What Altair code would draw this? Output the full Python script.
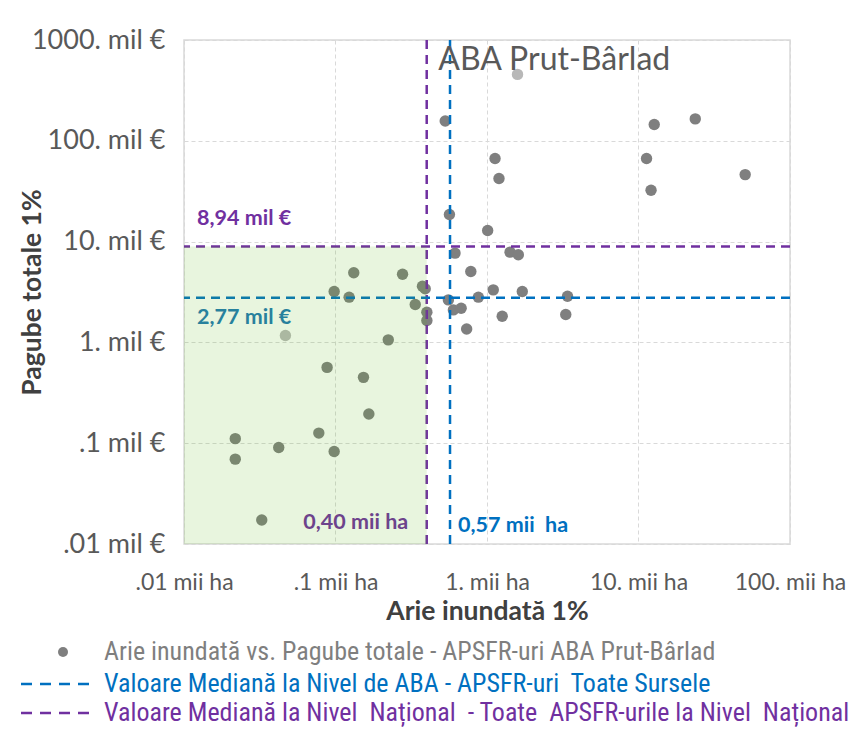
import altair as alt
import pandas as pd

# ---------------- data ----------------
area_kha = [0.132, 0.277, 0.098, 0.123, 0.375, 0.336, 0.391, 0.401, 0.401,
            0.0467, 0.223, 0.088, 0.153, 0.166, 0.0218, 0.0218, 0.0422, 0.0776,
            0.098, 0.0326,
            1.59, 0.53, 12.7, 23.7, 1.13, 1.20, 11.3, 12.1, 50.6, 0.565, 1.01,
            0.615, 1.42, 1.61, 0.782, 1.10, 1.71, 3.40, 0.556, 0.877, 0.60,
            0.675, 1.26, 3.31, 0.734]
damage_meur = [4.91, 4.75, 3.20, 2.81, 3.61, 2.38, 3.40, 1.99, 1.65,
               1.17, 1.06, 0.565, 0.45, 0.195, 0.111, 0.0695, 0.0906, 0.126,
               0.0827, 0.0173,
               456, 157, 145, 165, 66.7, 42.2, 66.7, 32.3, 46.2, 18.6, 12.9,
               7.69, 7.86, 7.41, 5.05, 3.32, 3.20, 2.87, 2.64, 2.81, 2.10,
               2.18, 1.82, 1.89, 1.36]
tone = ["d"] * 9 + ["l"] + ["d"] * 10 + ["l"] + ["d"] * 24

median_aba_x = 0.57
median_aba_y = 2.77
median_nat_x = 0.40
median_nat_y = 8.94

x_ticks = [0.01, 0.1, 1, 10, 100]
x_tick_labels = [".01 mii ha", ".1 mii ha", "1. mii ha", "10. mii ha", "100. mii ha"]
y_ticks = [0.01, 0.1, 1, 10, 100, 1000]
y_tick_labels = [".01 mil €", ".1 mil €", "1. mil €", "10. mil €", "100. mil €", "1000. mil €"]

shade_x = [0.01, median_nat_x]
shade_y = [0.01, median_nat_y]

chart_title = "ABA Prut-Bârlad"
title_pos = [0.477, 640]
label_texts = ["8,94 mil €", "2,77 mil €", "0,40 mii ha", "0,57 mii\u00a0 ha"]
label_x = [0.0122, 0.0122, 0.302, 0.644]
label_y = [16.6, 1.73, 0.0162, 0.0151]
label_colors = ["#7030a0", "#1f78b4", "#7030a0", "#0070c0"]
label_align = ["left", "left", "right", "left"]

legend_labels = [
    "Arie inundată vs. Pagube totale - APSFR-uri ABA Prut-Bârlad",
    "Valoare Mediană la Nivel de ABA - APSFR-uri\u00a0 Toate Sursele",
    "Valoare Mediană la Nivel\u00a0 Național\u00a0 - Toate\u00a0 APSFR-urile la Nivel\u00a0 Național",
]

GREY = "#7f7f7f"
BLUE = "#0070c0"
PURPLE = "#7030a0"
W, H = 606, 504

# ---------------- tables ----------------
pts = pd.DataFrame({"x": area_kha, "y": damage_meur, "tone": tone})
rect_df = pd.DataFrame({"x": [shade_x[0]], "x2": [shade_x[1]],
                        "y": [shade_y[0]], "y2": [shade_y[1]]})
vlines = pd.DataFrame({"x": [median_nat_x, median_aba_x], "c": [PURPLE, BLUE]})
hlines = pd.DataFrame({"y": [median_nat_y, median_aba_y], "c": [PURPLE, BLUE]})
labels = pd.DataFrame({"x": label_x, "y": label_y, "t": label_texts,
                       "c": label_colors, "a": label_align})
title_df = pd.DataFrame({"x": [title_pos[0]], "y": [title_pos[1]], "t": [chart_title]})


def expr(vals, labs):
    v = ",".join(repr(float(a)) for a in vals)
    l = ",".join("'" + s + "'" for s in labs)
    return f"[{l}][indexof([{v}], datum.value)]"


xscale = alt.Scale(type="log", domain=[0.01, 100], nice=False)
yscale = alt.Scale(type="log", domain=[0.01, 1000], nice=False)

xaxis = alt.Axis(values=x_ticks, labelExpr=expr(x_ticks, x_tick_labels),
                 title="Arie inundată 1%", labelFlush=False, labelOverlap=False,
                 labelFontSize=23, labelPadding=27, titlePadding=4)
yaxis = alt.Axis(values=y_ticks, labelExpr=expr(y_ticks, y_tick_labels),
                 title="Pagube totale 1%", labelOverlap=False, labelPadding=19,
                 labelFontSize=27,
                 titleAngle=270, titleX=-152, titleY=H / 2,
                 titleAlign="center", titleBaseline="middle")

X = alt.X("x:Q", scale=xscale, axis=xaxis)
Y = alt.Y("y:Q", scale=yscale, axis=yaxis)

points = alt.Chart(pts).mark_point(filled=True, size=130, opacity=1).encode(
    x=X, y=Y,
    color=alt.Color("tone:N", scale=alt.Scale(domain=["d", "l"], range=[GREY, "#b8b8b8"]),
                    legend=None),
)

vr = alt.Chart(vlines).mark_rule(strokeWidth=2.5, strokeDash=[9, 6]).encode(
    x=alt.X("x:Q", scale=xscale), color=alt.Color("c:N", scale=None))
hr = alt.Chart(hlines).mark_rule(strokeWidth=2.5, strokeDash=[9, 6]).encode(
    y=alt.Y("y:Q", scale=yscale), color=alt.Color("c:N", scale=None))

def lab(align):
    return alt.Chart(labels[labels["a"] == align]).mark_text(
        font="Lato", fontWeight="bold", fontSize=21.5, align=align, baseline="middle"
    ).encode(x=alt.X("x:Q", scale=xscale), y=alt.Y("y:Q", scale=yscale),
             text="t:N", color=alt.Color("c:N", scale=None))

shade = alt.Chart(rect_df).mark_rect(color="#5cb516", opacity=0.14).encode(
    x=alt.X("x:Q", scale=xscale), x2="x2:Q",
    y=alt.Y("y:Q", scale=yscale), y2="y2:Q")

title_t = alt.Chart(title_df).mark_text(
    font="Lato", fontSize=32, color="#595959", align="left", baseline="middle"
).encode(x=alt.X("x:Q", scale=xscale), y=alt.Y("y:Q", scale=yscale), text="t:N")

# ---------------- legend (drawn below the plot) ----------------
one = pd.DataFrame({"k": [0]})
LX_TEXT = -80
ly = [612, 644, 673]
leg_font = "Liberation Sans Narrow, Arial Narrow, Roboto Condensed, sans-serif"
leg_dot = alt.Chart(one).mark_point(filled=True, size=100, color=GREY, opacity=1).encode(
    x=alt.value(-121), y=alt.value(ly[0]))
leg_l1 = alt.Chart(one).mark_rule(color=BLUE, strokeWidth=2.5, strokeDash=[11, 8]).encode(
    x=alt.value(-163), x2=alt.value(-88), y=alt.value(ly[1]))
leg_l2 = alt.Chart(one).mark_rule(color=PURPLE, strokeWidth=2.5, strokeDash=[11, 8]).encode(
    x=alt.value(-163), x2=alt.value(-88), y=alt.value(ly[2]))
leg_texts = []
for lbl, col, yy in zip(legend_labels, [GREY, BLUE, PURPLE], ly):
    leg_texts.append(alt.Chart(one).mark_text(
        font=leg_font, fontSize=26, color=col, align="left", baseline="middle"
    ).encode(x=alt.value(LX_TEXT), y=alt.value(yy), text=alt.value(lbl)))

chart = alt.layer(
    points, vr, hr, lab("left"), lab("right"), shade, title_t,
    leg_dot, leg_l1, leg_l2, *leg_texts
).properties(
    width=W, height=H,
    autosize=alt.AutoSizeParams(type="none"),
    padding={"left": 176, "top": 32, "right": 61, "bottom": 183},
).configure_view(stroke="#d9d9d9", strokeWidth=1.5).configure_axis(
    domain=False, ticks=False, tickSize=0,
    grid=True, gridColor="#d9d9d9", gridDash=[4, 3], gridWidth=1,
    labelFont="Lato", labelColor="#595959",
    titleFont="Lato", titleFontSize=26.5, titleFontWeight="bold", titleColor="#404040",
)

chart.save("out.html", embed_options={"renderer": "svg", "actions": False})
